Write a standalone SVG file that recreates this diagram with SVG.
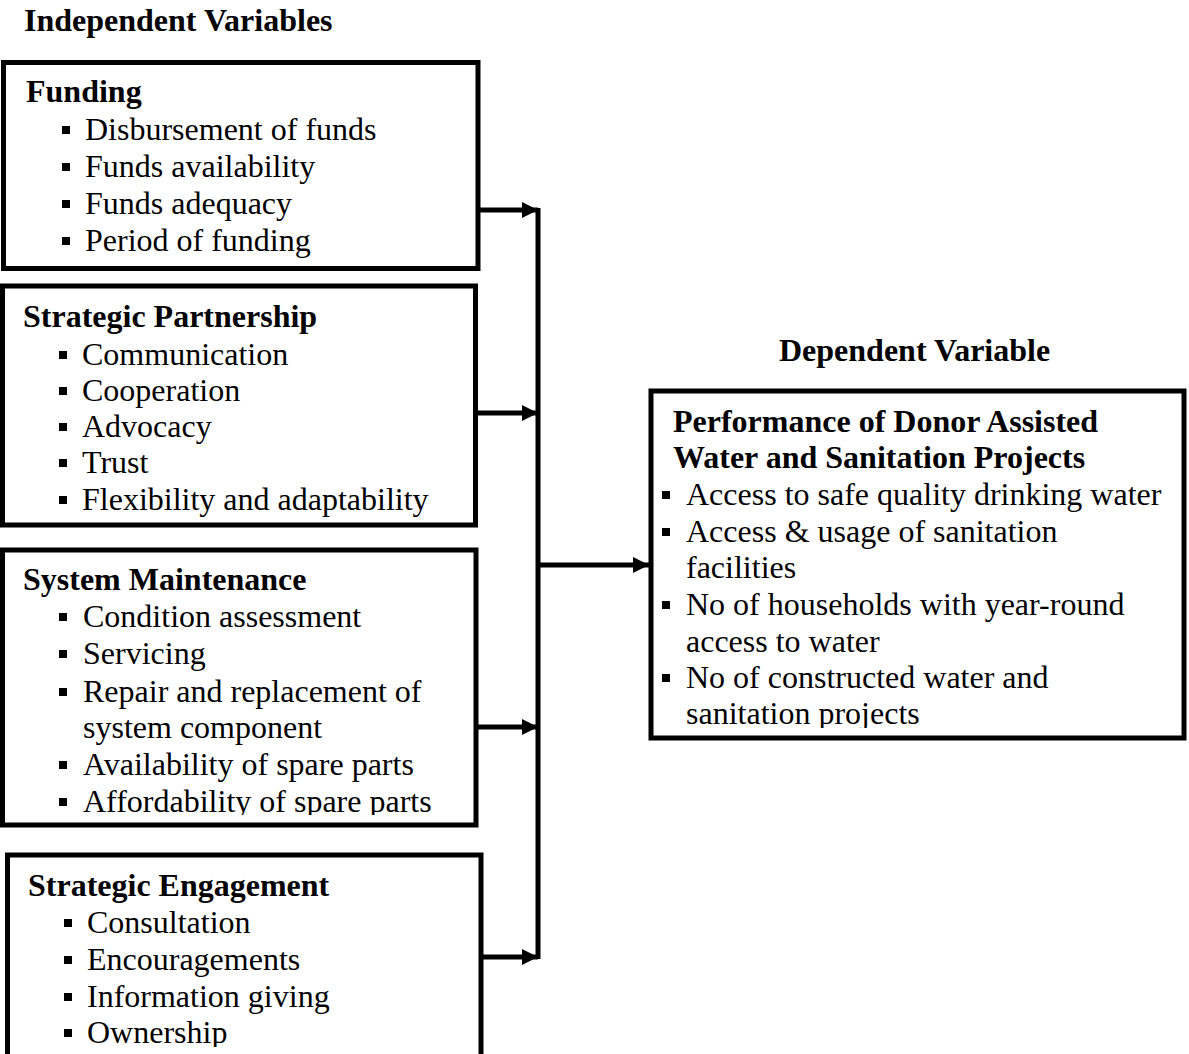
<svg xmlns="http://www.w3.org/2000/svg" width="1189" height="1054" viewBox="0 0 1189 1054">
<style>
text{font-family:"Liberation Serif","Times New Roman",serif;font-size:32px;fill:#000}
.h{font-weight:bold}
.box{fill:#fff;stroke:#000;stroke-width:5}
.b{fill:#000}
.con{stroke:#000;stroke-width:5;fill:none}
</style>
<defs>
<marker id="ah" markerUnits="userSpaceOnUse" markerWidth="18" markerHeight="18" refX="16" refY="8" orient="auto">
<path d="M0,0 L16,8 L0,16 Z" fill="#000"/>
</marker>
<clipPath id="cSP"><rect x="0" y="286" width="480" height="232"/></clipPath>
<clipPath id="cSM"><rect x="0" y="549" width="480" height="266"/></clipPath>
<clipPath id="cSE"><rect x="0" y="855" width="490" height="192"/></clipPath>
<clipPath id="cDV"><rect x="650" y="391" width="540" height="337"/></clipPath>
</defs>
<rect width="1189" height="1054" fill="#fff"/>
<text class="h" x="24" y="31">Independent Variables</text>
<text class="h" x="779" y="361">Dependent Variable</text>

<g id="connectors">
<line class="con" x1="538" y1="208" x2="538" y2="959"/>
<line class="con" x1="478" y1="210" x2="538" y2="210" marker-end="url(#ah)"/>
<line class="con" x1="475" y1="413" x2="538" y2="413" marker-end="url(#ah)"/>
<line class="con" x1="476" y1="727" x2="538" y2="727" marker-end="url(#ah)"/>
<line class="con" x1="481" y1="957" x2="538" y2="957" marker-end="url(#ah)"/>
<line class="con" x1="538" y1="565" x2="649" y2="565" marker-end="url(#ah)"/>
</g>

<g id="funding">
<rect class="box" x="3.5" y="62.5" width="474.5" height="206"/>
<text class="h" x="26" y="102">Funding</text>
<rect class="b" x="62" y="126" width="8" height="8"/><text x="85" y="140">Disbursement of funds</text>
<rect class="b" x="62" y="163" width="8" height="8"/><text x="85" y="177">Funds availability</text>
<rect class="b" x="62" y="200" width="8" height="8"/><text x="85" y="214">Funds adequacy</text>
<rect class="b" x="62" y="237" width="8" height="8"/><text x="85" y="251">Period of funding</text>
</g>

<g id="strategic-partnership">
<rect class="box" x="2.5" y="286" width="473" height="239"/>
<g clip-path="url(#cSP)">
<text class="h" x="23" y="327">Strategic Partnership</text>
<rect class="b" x="59" y="351" width="8" height="8"/><text x="82" y="365">Communication</text>
<rect class="b" x="59" y="387" width="8" height="8"/><text x="82" y="401">Cooperation</text>
<rect class="b" x="59" y="423" width="8" height="8"/><text x="82" y="437">Advocacy</text>
<rect class="b" x="59" y="459" width="8" height="8"/><text x="82" y="473">Trust</text>
<rect class="b" x="59" y="496" width="8" height="8"/><text x="82" y="510">Flexibility and adaptability</text>
</g>
</g>

<g id="system-maintenance">
<rect class="box" x="2.5" y="550" width="473.5" height="275"/>
<g clip-path="url(#cSM)">
<text class="h" x="23" y="590">System Maintenance</text>
<rect class="b" x="59" y="613" width="8" height="8"/><text x="83" y="627">Condition assessment</text>
<rect class="b" x="59" y="650" width="8" height="8"/><text x="83" y="664">Servicing</text>
<rect class="b" x="59" y="688" width="8" height="8"/><text x="83" y="702">Repair and replacement of</text>
<text x="83" y="738">system component</text>
<rect class="b" x="59" y="761" width="8" height="8"/><text x="83" y="775">Availability of spare parts</text>
<rect class="b" x="59" y="798" width="8" height="8"/><text x="83" y="812">Affordability of spare parts</text>
</g>
</g>

<g id="strategic-engagement">
<rect class="box" x="7.5" y="855" width="473.5" height="220"/>
<g clip-path="url(#cSE)">
<text class="h" x="28" y="896">Strategic Engagement</text>
<rect class="b" x="64" y="919" width="8" height="8"/><text x="87" y="933">Consultation</text>
<rect class="b" x="64" y="956" width="8" height="8"/><text x="87" y="970">Encouragements</text>
<rect class="b" x="64" y="993" width="8" height="8"/><text x="87" y="1007">Information giving</text>
<rect class="b" x="64" y="1029" width="8" height="8"/><text x="87" y="1043">Ownership</text>
</g>
</g>

<g id="dependent-variable">
<rect class="box" x="651" y="391" width="533" height="347"/>
<g clip-path="url(#cDV)">
<text class="h" x="673" y="432">Performance of Donor Assisted</text>
<text class="h" x="673" y="468">Water and Sanitation Projects</text>
<rect class="b" x="662" y="491" width="8" height="8"/><text x="686" y="505">Access to safe quality drinking water</text>
<rect class="b" x="662" y="528" width="8" height="8"/><text x="686" y="542">Access &amp; usage of sanitation</text>
<text x="686" y="578">facilities</text>
<rect class="b" x="662" y="601" width="8" height="8"/><text x="686" y="615">No of households with year-round</text>
<text x="686" y="652">access to water</text>
<rect class="b" x="662" y="674" width="8" height="8"/><text x="686" y="688">No of constructed water and</text>
<text x="686" y="724">sanitation projects</text>
</g>
</g>
</svg>
